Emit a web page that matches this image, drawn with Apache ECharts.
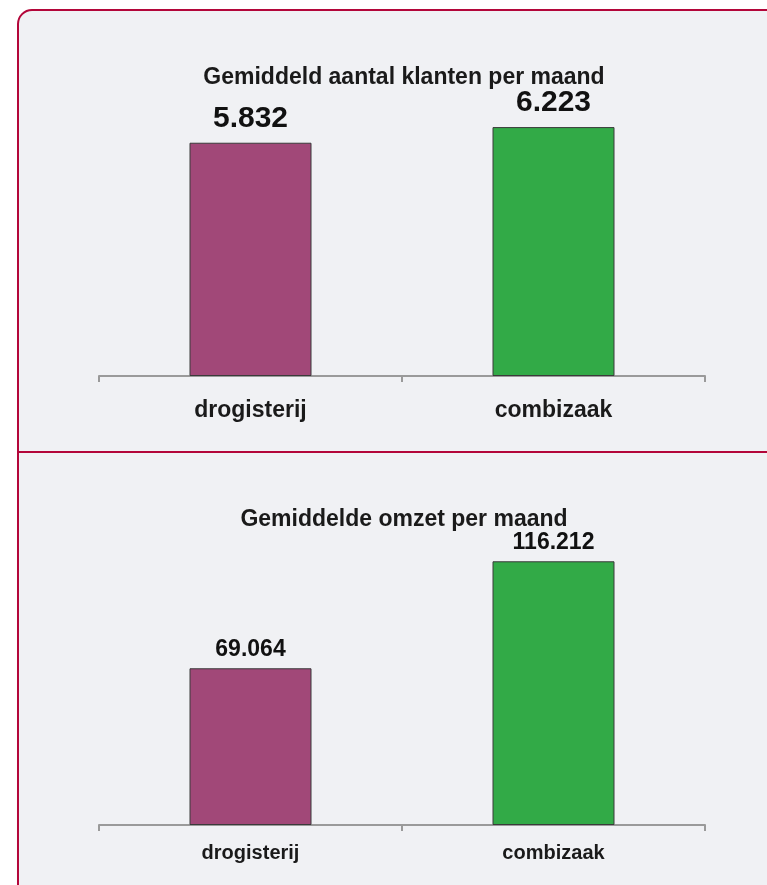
<!DOCTYPE html>
<html>
<head>
<meta charset="utf-8">
<script src="https://cdn.jsdelivr.net/npm/echarts@6/dist/echarts.min.js"></script>
<style>
html,body{margin:0;padding:0;background:#fff;}
#c{width:767px;height:885px;}
</style>
</head>
<body>
<div id="c"></div>
<script>
const categories = ['drogisterij', 'combizaak'];
const klanten = [5832, 6223];
const omzet = [69064, 116212];
const titleTop = 'Gemiddeld aantal klanten per maand';
const titleBottom = 'Gemiddelde omzet per maand';
const barColors = ['#a14878', '#32aa47'];

function fmt(v){
  return String(v).replace(/\B(?=(\d{3})+(?!\d))/g, '.');
}
const FONT = '"Liberation Sans", Arial, sans-serif';

const chart = echarts.init(document.getElementById('c'), null, {renderer:'canvas'});

function barData(vals){
  return vals.map((v,i)=>({value:v, itemStyle:{color:barColors[i]}}));
}
function xAx(gi, fs, margin){
  return {
    type:'category', gridIndex:gi, data:categories, boundaryGap:true,
    axisLine:{show:true, lineStyle:{color:'#9a9a9a', width:2}},
    axisTick:{show:true, length:6, lineStyle:{color:'#9a9a9a', width:2}},
    axisLabel:{color:'#1a1a1a', fontWeight:'bold', fontSize:fs, fontFamily:FONT, margin:margin}
  };
}
function yAx(gi, max){
  return {type:'value', gridIndex:gi, min:0, max:max, show:false, splitLine:{show:false}};
}

chart.setOption({
  backgroundColor:'#ffffff',
  animation:false,
  graphic:[
    {type:'rect', z:-10, shape:{x:18, y:10, width:780, height:900, r:14},
     style:{fill:'#f0f1f4', stroke:'#b3063a', lineWidth:2}},
    {type:'line', z:-9, shape:{x1:18, y1:452, x2:780, y2:452},
     style:{stroke:'#b3063a', lineWidth:2}}
  ],
  title:[
    {text:titleTop, left:399, top:61, textAlign:'center',
     textStyle:{fontSize:23, fontWeight:'bold', color:'#1a1a1a', fontFamily:FONT}},
    {text:titleBottom, left:399, top:503, textAlign:'center',
     textStyle:{fontSize:23, fontWeight:'bold', color:'#1a1a1a', fontFamily:FONT}}
  ],
  grid:[
    {left:99, width:606, top:96, height:280},
    {left:99, width:606, top:530, height:295}
  ],
  xAxis:[xAx(0,23,23), xAx(1,20,18)],
  yAxis:[yAx(0,7000), yAx(1,130000)],
  series:[
    {type:'bar', xAxisIndex:0, yAxisIndex:0, barWidth:122, data:barData(klanten),
     itemStyle:{borderColor:'#3a3a3a', borderWidth:1},
     label:{show:true, position:'top', distance:9, formatter:p=>fmt(p.value),
       fontSize:30, fontWeight:'bold', color:'#111', fontFamily:FONT}},
    {type:'bar', xAxisIndex:1, yAxisIndex:1, barWidth:122, data:barData(omzet),
     itemStyle:{borderColor:'#3a3a3a', borderWidth:1},
     label:{show:true, position:'top', distance:7, formatter:p=>fmt(p.value),
       fontSize:23, fontWeight:'bold', color:'#111', fontFamily:FONT}}
  ]
});
</script>
</body>
</html>
